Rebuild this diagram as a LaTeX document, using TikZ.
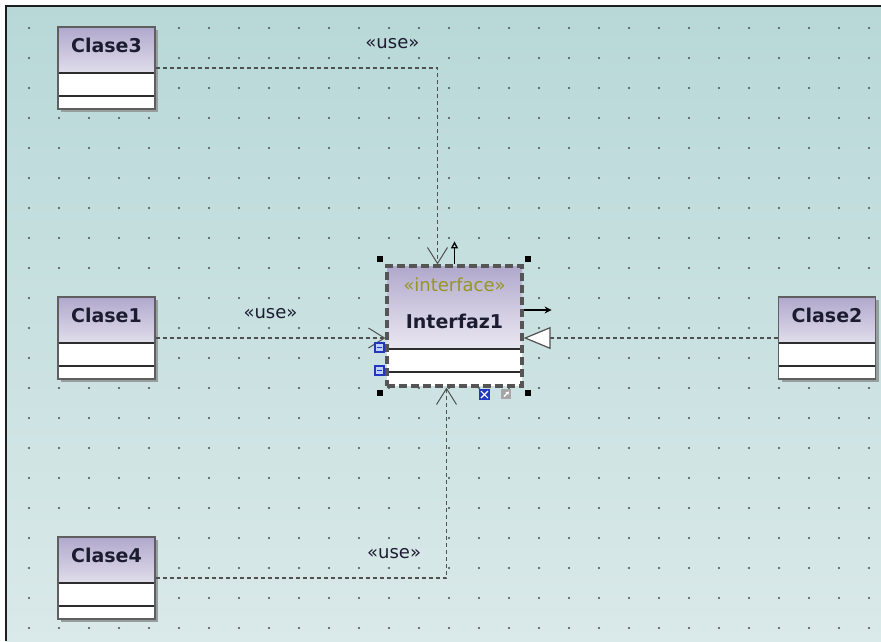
\documentclass[tikz,border=0pt]{standalone}
\usepackage{fontspec}
\setmainfont{DejaVu Sans}
\usetikzlibrary{arrows.meta,shadows}
\definecolor{bgtop}{RGB}{184,216,216}
\definecolor{bgbot}{RGB}{218,233,233}
\definecolor{griddot}{RGB}{70,78,78}
\definecolor{frameline}{RGB}{30,30,30}
\definecolor{hdtop}{RGB}{176,168,204}
\definecolor{clsline}{RGB}{95,95,95}
\definecolor{sepline}{RGB}{45,45,45}
\definecolor{clstext}{RGB}{28,28,48}
\definecolor{shadowgray}{RGB}{150,158,158}
\definecolor{ifcline}{RGB}{85,85,85}
\definecolor{stereo}{RGB}{150,150,35}
\definecolor{depline}{RGB}{80,80,80}
\definecolor{iconblue}{RGB}{35,55,190}
\definecolor{iconlight}{RGB}{190,210,250}
\begin{document}
\begin{tikzpicture}[x=1pt,y=-1pt,
  cls/.style={draw=clsline,fill=white,line width=1.1pt,
    minimum width=97pt,minimum height=82pt,inner sep=0pt,
    text height=25pt,text depth=57pt,text=clstext,
    font=\bfseries\fontsize{19}{22}\selectfont,
    drop shadow={shadow xshift=3pt,shadow yshift=-3pt,fill=shadowgray,opacity=1},
    path picture={
      \shade[top color=hdtop,bottom color=white,middle color=hdtop!45!white]
        (path picture bounding box.north west) rectangle
        ([yshift=-46pt]path picture bounding box.north east);
      \draw[sepline,line width=1.6pt]
        ([yshift=-46pt]path picture bounding box.north west) --
        ([yshift=-46pt]path picture bounding box.north east)
        ([yshift=-69pt]path picture bounding box.north west) --
        ([yshift=-69pt]path picture bounding box.north east);}},
  iface/.style={draw=ifcline,fill=white,line width=3.2pt,
    dash pattern=on 8pt off 4pt,
    minimum width=135pt,minimum height=120pt,inner sep=0pt,
    text height=62pt,text depth=58pt,text=clstext,
    font=\bfseries\fontsize{19}{22}\selectfont,
    path picture={
      \shade[top color=hdtop,bottom color=white,middle color=hdtop!45!white]
        (path picture bounding box.north west) rectangle
        ([yshift=-83pt]path picture bounding box.north east);
      \draw[sepline,solid,line width=1.6pt]
        ([yshift=-83pt]path picture bounding box.north west) --
        ([yshift=-83pt]path picture bounding box.north east)
        ([yshift=-106pt]path picture bounding box.north west) --
        ([yshift=-106pt]path picture bounding box.north east);}},
  stereobox/.style={inner sep=0pt,text=stereo,font=\fontsize{18}{21}\selectfont},
  lbl/.style={inner sep=0pt,above=19pt,text=clstext,font=\fontsize{18}{21}\selectfont},
  usedep/.style={depline,line width=1.2pt,dash pattern=on 4pt off 3pt,
    -{Straight Barb[length=16pt,width=20pt,line width=1pt]}},
  realize/.style={depline,line width=1.2pt,dash pattern=on 4pt off 3pt,
    -{Triangle[open,length=27pt,width=22pt,fill=white,line width=1.2pt]}},
  minusbox/.style={draw=iconblue,fill=iconlight,line width=1.4pt}]
\useasboundingbox (0,0) rectangle (881,641);
\fill[white] (0,0) rectangle (881,641);
\shade[top color=bgtop,bottom color=bgbot] (6,6) rectangle (881,641);
\draw[frameline,line width=2pt] (6,641) -- (6,6) -- (881,6);
\foreach \x in {29,59,...,869}
  \foreach \y in {28,58,...,628}
    \fill[griddot] (\x,\y) circle (1.2pt);

\node[cls] (c3) at (106.5,68) {Clase3};
\node[cls] (c1) at (106.5,338) {Clase1};
\node[cls] (c4) at (106.5,578) {Clase4};
\node[cls] (c2) at (827,338) {Clase2};
\node[iface] (ifc) at (454.5,326) {Interfaz1};
\node[stereobox,anchor=base] (ster) at ([yshift=-27pt]ifc.north) {«interface»};

\draw[usedep] (c3.east) -| ([xshift=-17pt]ifc.north) node[lbl,pos=0.42] (u3) {«use»};
\draw[usedep] (c1.east) -- (c1.east -| ifc.west) node[lbl,midway] (u1) {«use»};
\draw[usedep] (c4.east) -| ([xshift=-8pt]ifc.south) node[lbl,pos=0.41] (u4) {«use»};
\draw[realize] (c2.west) -- (c2.west -| ifc.east);

\draw[line width=1.3pt,-{Triangle[open,length=7pt,width=7pt]}] (ifc.north) -- ++(0,-23);
\draw[line width=1.3pt,-{Stealth[length=7pt,width=7pt]}] ([yshift=16pt]ifc.east) -- ++(28,0);
\foreach \a/\dx/\dy in {north west/-5/-5,north east/4/-5,south west/-5/5,south east/4/5}
  \fill[black] ([shift={(\dx-3,\dy-3)}]ifc.\a) rectangle ++(6,6);
\foreach \y in {83,106} {
  \draw[minusbox] ([shift={(-10.5,\y-4.5)}]ifc.north west) rectangle ++(9,9);
  \draw[iconblue,line width=1.2pt] ([shift={(-8.5,\y)}]ifc.north west) -- ++(5,0);
}
\fill[iconblue] ([shift={(93.5,1.5)}]ifc.south west) rectangle ++(11,11);
\draw[white,line width=1.1pt] ([shift={(95.5,3.5)}]ifc.south west) -- ++(3.5,3.5) -- ++(3.5,-3.5)
  ([shift={(95.5,10.5)}]ifc.south west) -- ++(3.5,-3.5) -- ++(3.5,3.5);
\fill[gray!70] ([shift={(116,1)}]ifc.south west) rectangle ++(10,10);
\draw[white,line width=1.1pt,-{Stealth[length=3pt,width=4pt]}] ([shift={(118.5,9)}]ifc.south west) -- ++(5,-5);
\end{tikzpicture}
\end{document}
